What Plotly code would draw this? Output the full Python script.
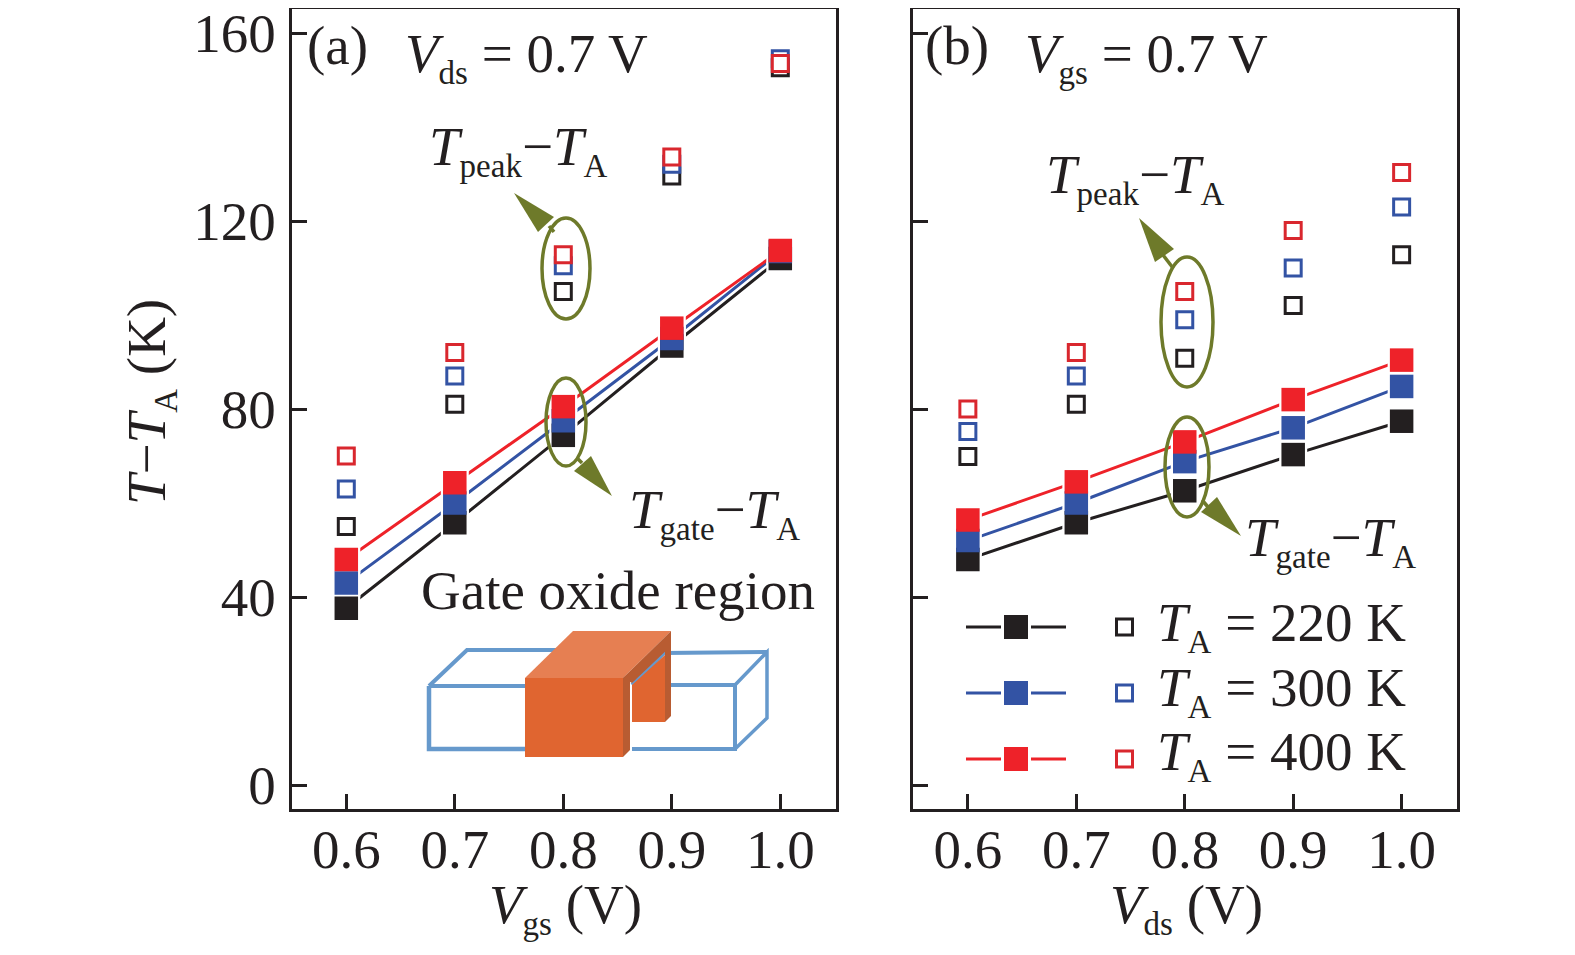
import plotly.graph_objects as go

W, H = 1575, 955
FONT = "Liberation Serif"
INK = "#231F20"
OLIVE = "#6E7A2A"
COLORS = {"220": "#231F20", "300": "#3353A4", "400": "#EE2229"}
OPEN_COLORS = {"220": "#231F20", "300": "#3353A4", "400": "#D9272E"}

x_values = [0.6, 0.7, 0.8, 0.9, 1.0]
tick_y = [0, 40, 80, 120, 160]
tick_x = ["0.6", "0.7", "0.8", "0.9", "1.0"]

gate_a_220 = [37.6, 55.8, 74.4, 93.4, 112.0]
gate_a_300 = [43.0, 60.0, 77.5, 95.0, 113.5]
gate_a_400 = [48.0, 64.3, 80.5, 97.2, 113.7]
peak_a_220 = [55.0, 81.0, 105.0, 129.6, 152.6]
peak_a_300 = [63.0, 87.0, 110.5, 132.1, 154.5]
peak_a_400 = [70.0, 92.0, 112.8, 133.6, 153.5]

gate_b_220 = [48.0, 55.8, 62.6, 70.3, 77.4]
gate_b_300 = [52.0, 60.0, 68.8, 76.0, 84.8]
gate_b_400 = [56.4, 64.5, 73.0, 82.0, 90.4]
peak_b_220 = [69.9, 81.0, 90.8, 102.0, 112.8]
peak_b_300 = [75.2, 87.0, 99.0, 110.0, 123.0]
peak_b_400 = [80.0, 92.0, 105.0, 118.0, 130.3]

OFF = 8  # default page margin of the body


def px(x):
    return (x - OFF) / W


def py(y):
    return 1 - (y - OFF) / H


fig = go.Figure()

panels = [
    ("x", "y", {"220": gate_a_220, "300": gate_a_300, "400": gate_a_400},
     {"220": peak_a_220, "300": peak_a_300, "400": peak_a_400}),
    ("x2", "y2", {"220": gate_b_220, "300": gate_b_300, "400": gate_b_400},
     {"220": peak_b_220, "300": peak_b_300, "400": peak_b_400}),
]
for xa, ya, gate, peak in panels:
    for k in gate:
        fig.add_trace(go.Scatter(x=x_values, y=gate[k], xaxis=xa, yaxis=ya, mode="lines+markers",
                                 line=dict(color=COLORS[k], width=3),
                                 marker=dict(symbol="square", size=25, color=COLORS[k],
                                             line=dict(color="white", width=3)),
                                 showlegend=False, hoverinfo="skip"))
    for k in gate:
        fig.add_trace(go.Scatter(x=x_values, y=gate[k], xaxis=xa, yaxis=ya, mode="markers",
                                 marker=dict(symbol="square", size=23.5, color=COLORS[k]),
                                 showlegend=False, hoverinfo="skip"))
    for k in peak:
        fig.add_trace(go.Scatter(x=x_values, y=peak[k], xaxis=xa, yaxis=ya, mode="markers",
                                 marker=dict(symbol="square", size=16, color="white",
                                             line=dict(width=3, color=OPEN_COLORS[k])),
                                 showlegend=False, hoverinfo="skip"))

shapes = []


def poly(points, fill=None, line=None, lw=0):
    d = "M" + " L".join(f"{px(a):.5f},{py(b):.5f}" for a, b in points)
    if fill:
        d += " Z"
    shapes.append(dict(type="path", xref="paper", yref="paper", path=d,
                       fillcolor=fill if fill else "rgba(0,0,0,0)",
                       line=dict(color=line if line else "rgba(0,0,0,0)", width=lw), layer="above"))


def ellipse(x0, y0, x1, y1):
    shapes.append(dict(type="circle", xref="paper", yref="paper", x0=px(x0), x1=px(x1),
                       y0=py(y0), y1=py(y1), line=dict(color=OLIVE, width=3.5), layer="above"))


ellipse(542, 218, 590, 319)
ellipse(546, 378, 586, 466)
ellipse(1161, 257, 1213, 387)
ellipse(1165, 417, 1209, 517)

# arrows
poly([(514, 193), (554, 217), (538, 232)], fill=OLIVE)
poly([(549, 226), (554, 232)], line=OLIVE, lw=3.5)
poly([(612, 496), (591, 456), (574, 471)], fill=OLIVE)
poly([(577, 458), (582, 463)], line=OLIVE, lw=3.5)
poly([(1139, 218), (1174, 249), (1155, 262)], fill=OLIVE)
poly([(1163, 255), (1173, 268)], line=OLIVE, lw=3.5)
poly([(1241, 536), (1217, 497), (1201, 512)], fill=OLIVE)
poly([(1202, 500), (1208, 507)], line=OLIVE, lw=3.5)

# gate oxide sketch
BLUE = "#6699CC"
ORANGE = "#E06530"
poly([(429, 686), (525, 686)], line=BLUE, lw=4)
poly([(429, 686), (429, 749), (525, 749)], line=BLUE, lw=4.5)
poly([(429, 686), (467, 650), (556, 650)], line=BLUE, lw=4)
poly([(632, 685), (735, 685), (735, 749), (632, 749)], line=BLUE, lw=4)
poly([(735, 685), (767, 652), (767, 718), (735, 749)], line=BLUE, lw=3.5)
poly([(632, 685), (664, 653), (767, 652)], line=BLUE, lw=4)
poly([(632, 685), (665, 655), (665, 722), (632, 722)], fill=ORANGE)
poly([(665, 650), (671, 631), (671, 716), (665, 722)], fill="#B85C32")
poly([(525, 678), (573, 631), (671, 631), (623, 678)], fill="#E67F52")
poly([(623, 678), (671, 631), (671, 646), (632, 683)], fill="#B85C32")
poly([(623, 678), (630, 672), (630, 750), (623, 757)], fill="#B85C32")
poly([(525, 678), (623, 678), (623, 757), (525, 757)], fill=ORANGE)

# legend samples
for yy, k in [(627, "220"), (693, "300"), (759, "400")]:
    poly([(966, yy), (1001, yy)], line=COLORS[k], lw=3)
    poly([(1031, yy), (1066, yy)], line=COLORS[k], lw=3)
    poly([(1004, yy - 12), (1028, yy - 12), (1028, yy + 12), (1004, yy + 12)], fill=COLORS[k])
    poly([(1116.5, yy - 8), (1132.5, yy - 8), (1132.5, yy + 8), (1116.5, yy + 8), (1116.5, yy - 9.5)],
         line=OPEN_COLORS[k], lw=3)

FS = 55


def sub(s):
    return f'<sub><span style="font-size:33px">{s}</span></sub>'


TA = "<i>T</i>" + sub("A")
texts = [
    ("(a)", 337, 45, FS),
    ("<i>V</i>" + sub("ds") + " = 0.7 V", 526, 57, FS),
    ("<i>T</i>" + sub("peak") + "−" + TA, 518, 150, FS),
    ("<i>T</i>" + sub("gate") + "−" + TA, 714, 513, FS),
    ("Gate oxide region", 618, 590, FS),
    ("(b)", 957, 45, FS),
    ("<i>V</i>" + sub("gs") + " = 0.7 V", 1146, 57, FS),
    ("<i>T</i>" + sub("peak") + "−" + TA, 1135, 178, FS),
    ("<i>T</i>" + sub("gate") + "−" + TA, 1330, 541, FS),
    (TA + " = 220 K", 1281, 626, FS),
    (TA + " = 300 K", 1281, 691, FS),
    (TA + " = 400 K", 1281, 755, FS),
    ("<i>V</i>" + sub("gs") + " (V)", 565, 908, FS),
    ("<i>V</i>" + sub("ds") + " (V)", 1186, 908, FS),
]
annotations = [dict(text=t, x=px(a), y=py(b), xref="paper", yref="paper", showarrow=False,
                    xanchor="center", yanchor="middle", font=dict(family=FONT, size=s, color=INK))
               for t, a, b, s in texts]
annotations.append(dict(text="<i>T</i>−" + TA + " (K)", x=px(150), y=py(402), xref="paper", yref="paper",
                        showarrow=False, textangle=-90, xanchor="center", yanchor="middle",
                        font=dict(family=FONT, size=FS, color=INK)))

xr = [0.6 - 54.6 / 1085, 1.0 + 55.4 / 1085]
yr = [-24 / 4.70, 160 + 23.6 / 4.70]


def xaxis(dom):
    return dict(domain=dom, range=xr, tickvals=x_values, ticktext=tick_x, ticks="inside", ticklen=15,
                tickwidth=3, tickcolor=INK, showline=True, linewidth=3, linecolor=INK, mirror=True,
                showgrid=False, zeroline=False, tickfont=dict(family=FONT, size=FS, color=INK),
                ticklabelstandoff=-10, automargin=False)


def yaxis(anchor, labels):
    return dict(domain=[py(809), py(9.4)], range=yr, anchor=anchor, tickvals=tick_y, ticks="inside", ticklen=15,
                tickwidth=3, tickcolor=INK, showline=True, linewidth=3, linecolor=INK, mirror=True,
                showgrid=False, zeroline=False, showticklabels=labels, ticklabeloverflow="allow",
                tickfont=dict(family=FONT, size=FS, color=INK), ticklabelstandoff=2, automargin=False)


fig.update_layout(
    width=W, height=H, margin=dict(l=0, r=0, t=0, b=0), plot_bgcolor="white", paper_bgcolor="white",
    xaxis=dict(xaxis([px(291.7), px(835.7)]), anchor="y"),
    yaxis=yaxis("x", True),
    xaxis2=dict(xaxis([px(913.3), px(1457)]), anchor="y2"),
    yaxis2=yaxis("x2", False),
    shapes=shapes, annotations=annotations, showlegend=False,
)
fig.write_html("out.html")
